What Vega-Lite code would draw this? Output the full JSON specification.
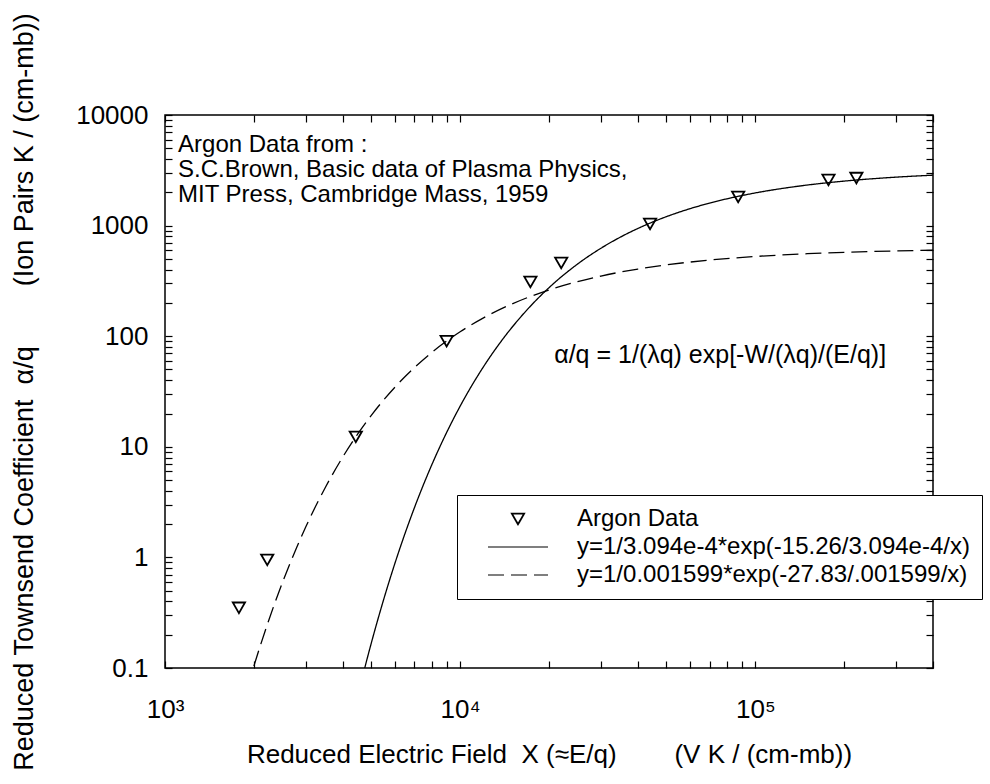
{
  "$schema": "https://vega.github.io/schema/vega-lite/v6.json",
  "width": 768,
  "height": 553,
  "autosize": {"type": "none"},
  "padding": {"left": 165, "top": 115, "right": 57, "bottom": 116},
  "background": "white",
  "config": {
    "view": {"stroke": "black", "strokeWidth": 1.5},
    "font": "Liberation Sans",
    "axis": {"grid": false, "domain": false, "tickColor": "black", "tickWidth": 1.2, "labelColor": "black", "titleColor": "black", "titleFontWeight": "normal", "labelFont": "Liberation Sans", "titleFont": "Liberation Sans"}
  },
  "datasets": {
    "fits": [
      {"series": "y=1/3.094e-4*exp(-15.26/3.094e-4/x)", "x": 4500, "y": 0.0562},
      {"series": "y=1/3.094e-4*exp(-15.26/3.094e-4/x)", "x": 4750, "y": 0.1},
      {"series": "y=1/3.094e-4*exp(-15.26/3.094e-4/x)", "x": 5000, "y": 0.168},
      {"series": "y=1/3.094e-4*exp(-15.26/3.094e-4/x)", "x": 5500, "y": 0.412},
      {"series": "y=1/3.094e-4*exp(-15.26/3.094e-4/x)", "x": 6000, "y": 0.87},
      {"series": "y=1/3.094e-4*exp(-15.26/3.094e-4/x)", "x": 6500, "y": 1.637},
      {"series": "y=1/3.094e-4*exp(-15.26/3.094e-4/x)", "x": 7000, "y": 2.815},
      {"series": "y=1/3.094e-4*exp(-15.26/3.094e-4/x)", "x": 8000, "y": 6.792},
      {"series": "y=1/3.094e-4*exp(-15.26/3.094e-4/x)", "x": 9000, "y": 13.47},
      {"series": "y=1/3.094e-4*exp(-15.26/3.094e-4/x)", "x": 10000, "y": 23.31},
      {"series": "y=1/3.094e-4*exp(-15.26/3.094e-4/x)", "x": 12000, "y": 53.02},
      {"series": "y=1/3.094e-4*exp(-15.26/3.094e-4/x)", "x": 14000, "y": 95.39},
      {"series": "y=1/3.094e-4*exp(-15.26/3.094e-4/x)", "x": 17000, "y": 177.6},
      {"series": "y=1/3.094e-4*exp(-15.26/3.094e-4/x)", "x": 20000, "y": 274.5},
      {"series": "y=1/3.094e-4*exp(-15.26/3.094e-4/x)", "x": 25000, "y": 449.5},
      {"series": "y=1/3.094e-4*exp(-15.26/3.094e-4/x)", "x": 30000, "y": 624.4},
      {"series": "y=1/3.094e-4*exp(-15.26/3.094e-4/x)", "x": 35000, "y": 789.7},
      {"series": "y=1/3.094e-4*exp(-15.26/3.094e-4/x)", "x": 40000, "y": 941.9},
      {"series": "y=1/3.094e-4*exp(-15.26/3.094e-4/x)", "x": 50000, "y": 1205.2},
      {"series": "y=1/3.094e-4*exp(-15.26/3.094e-4/x)", "x": 60000, "y": 1420.6},
      {"series": "y=1/3.094e-4*exp(-15.26/3.094e-4/x)", "x": 70000, "y": 1597.6},
      {"series": "y=1/3.094e-4*exp(-15.26/3.094e-4/x)", "x": 80000, "y": 1744.7},
      {"series": "y=1/3.094e-4*exp(-15.26/3.094e-4/x)", "x": 100000, "y": 1973.7},
      {"series": "y=1/3.094e-4*exp(-15.26/3.094e-4/x)", "x": 150000, "y": 2326.3},
      {"series": "y=1/3.094e-4*exp(-15.26/3.094e-4/x)", "x": 200000, "y": 2525.6},
      {"series": "y=1/3.094e-4*exp(-15.26/3.094e-4/x)", "x": 300000, "y": 2742.0},
      {"series": "y=1/3.094e-4*exp(-15.26/3.094e-4/x)", "x": 400000, "y": 2857.1},
      {"series": "y=1/0.001599*exp(-27.83/.001599/x)", "x": 1900, "y": 0.0658},
      {"series": "y=1/0.001599*exp(-27.83/.001599/x)", "x": 2000, "y": 0.1039},
      {"series": "y=1/0.001599*exp(-27.83/.001599/x)", "x": 2200, "y": 0.2293},
      {"series": "y=1/0.001599*exp(-27.83/.001599/x)", "x": 2500, "y": 0.5925},
      {"series": "y=1/0.001599*exp(-27.83/.001599/x)", "x": 2800, "y": 1.249},
      {"series": "y=1/0.001599*exp(-27.83/.001599/x)", "x": 3000, "y": 1.891},
      {"series": "y=1/0.001599*exp(-27.83/.001599/x)", "x": 3500, "y": 4.331},
      {"series": "y=1/0.001599*exp(-27.83/.001599/x)", "x": 4000, "y": 8.062},
      {"series": "y=1/0.001599*exp(-27.83/.001599/x)", "x": 4500, "y": 13.08},
      {"series": "y=1/0.001599*exp(-27.83/.001599/x)", "x": 5000, "y": 19.25},
      {"series": "y=1/0.001599*exp(-27.83/.001599/x)", "x": 6000, "y": 34.38},
      {"series": "y=1/0.001599*exp(-27.83/.001599/x)", "x": 7000, "y": 52.04},
      {"series": "y=1/0.001599*exp(-27.83/.001599/x)", "x": 8000, "y": 71.01},
      {"series": "y=1/0.001599*exp(-27.83/.001599/x)", "x": 10000, "y": 109.7},
      {"series": "y=1/0.001599*exp(-27.83/.001599/x)", "x": 12000, "y": 146.6},
      {"series": "y=1/0.001599*exp(-27.83/.001599/x)", "x": 15000, "y": 196.0},
      {"series": "y=1/0.001599*exp(-27.83/.001599/x)", "x": 20000, "y": 262.0},
      {"series": "y=1/0.001599*exp(-27.83/.001599/x)", "x": 25000, "y": 311.8},
      {"series": "y=1/0.001599*exp(-27.83/.001599/x)", "x": 30000, "y": 350.1},
      {"series": "y=1/0.001599*exp(-27.83/.001599/x)", "x": 40000, "y": 404.7},
      {"series": "y=1/0.001599*exp(-27.83/.001599/x)", "x": 50000, "y": 441.6},
      {"series": "y=1/0.001599*exp(-27.83/.001599/x)", "x": 70000, "y": 487.7},
      {"series": "y=1/0.001599*exp(-27.83/.001599/x)", "x": 100000, "y": 525.5},
      {"series": "y=1/0.001599*exp(-27.83/.001599/x)", "x": 150000, "y": 556.9},
      {"series": "y=1/0.001599*exp(-27.83/.001599/x)", "x": 200000, "y": 573.3},
      {"series": "y=1/0.001599*exp(-27.83/.001599/x)", "x": 300000, "y": 590.1},
      {"series": "y=1/0.001599*exp(-27.83/.001599/x)", "x": 400000, "y": 598.8}
    ],
    "argon": [
      {"x": 1780, "y": 0.35},
      {"x": 2220, "y": 0.95},
      {"x": 4430, "y": 12.3},
      {"x": 9000, "y": 90},
      {"x": 17300, "y": 309},
      {"x": 22000, "y": 459},
      {"x": 44000, "y": 1034},
      {"x": 87500, "y": 1816},
      {"x": 177000, "y": 2583},
      {"x": 220000, "y": 2692}
    ],
    "notes": [
      {"x": 1107, "y": 5356, "label": "Argon Data from :"},
      {"x": 1107, "y": 3182, "label": "S.C.Brown, Basic data of Plasma Physics,"},
      {"x": 1107, "y": 1891, "label": "MIT Press, Cambridge Mass, 1959"}
    ],
    "formula": [
      {"x": 20830, "y": 67.6, "label": "α/q = 1/(λq) exp[-W/(λq)/(E/q)]"}
    ]
  },
  "layer": [
    {
      "data": {"name": "fits"},
      "mark": {"type": "line", "clip": true, "color": "black", "strokeWidth": 1.3, "interpolate": "monotone"},
      "encoding": {
        "x": {
          "field": "x", "type": "quantitative",
          "scale": {"type": "log", "domain": [1000, 400000], "nice": false},
          "axis": {
            "orient": "bottom",
            "values": [1000, 2000, 3000, 4000, 5000, 6000, 7000, 8000, 9000, 10000, 20000, 30000, 40000, 50000, 60000, 70000, 80000, 90000, 100000, 200000, 300000, 400000],
            "labelExpr": "datum.value == 1000 ? '10³' : datum.value == 10000 ? '10⁴' : datum.value == 100000 ? '10⁵' : ''",
            "tickSize": -7,
            "labelFontSize": 26,
            "labelPadding": 35,
            "labelOverlap": false,
            "labelFlush": false,
            "labelBound": false,
            "title": "Reduced Electric Field\u00a0\u00a0X (≈E/q)\u00a0\u00a0\u00a0\u00a0\u00a0\u00a0\u00a0\u00a0(V K / (cm-mb))",
            "titleFontSize": 26,
            "titleY": 86,
            "titleBaseline": "middle"
          }
        },
        "y": {
          "field": "y", "type": "quantitative",
          "scale": {"type": "log", "domain": [0.1, 10000], "nice": false},
          "axis": {
            "orient": "left",
            "values": [0.1, 0.2, 0.3, 0.4, 0.5, 0.6, 0.7, 0.8, 0.9, 1, 2, 3, 4, 5, 6, 7, 8, 9, 10, 20, 30, 40, 50, 60, 70, 80, 90, 100, 200, 300, 400, 500, 600, 700, 800, 900, 1000, 2000, 3000, 4000, 5000, 6000, 7000, 8000, 9000, 10000],
            "labelExpr": "indexof([0.1, 1, 10, 100, 1000, 10000], datum.value) >= 0 ? (datum.value < 1 ? '0.1' : format(datum.value, 'd')) : ''",
            "tickSize": -7,
            "labelFontSize": 26,
            "labelPadding": 24,
            "labelOverlap": false,
            "labelFlush": false,
            "labelBound": false,
            "title": "Reduced Townsend Coefficient\u00a0\u00a0α/q\u00a0\u00a0\u00a0\u00a0\u00a0\u00a0\u00a0\u00a0(Ion Pairs K / (cm-mb))",
            "titleFontSize": 27,
            "titleX": -141,
            "titleAngle": 270,
            "titleBaseline": "middle",
            "titleAlign": "center"
          }
        },
        "strokeDash": {
          "field": "series", "type": "nominal",
          "scale": {
            "domain": ["Argon Data", "y=1/3.094e-4*exp(-15.26/3.094e-4/x)", "y=1/0.001599*exp(-27.83/.001599/x)"],
            "range": [[1, 0], [1, 0], [16, 7]]
          },
          "legend": {
            "orient": "none",
            "legendX": 292,
            "legendY": 380,
            "title": null,
            "strokeColor": "black",
            "fillColor": "white",
            "padding": 12,
            "labelFontSize": 24,
            "labelFont": "Liberation Sans",
            "labelColor": "black",
            "labelLimit": 1000,
            "labelOffset": 47,
            "symbolOffset": 37,
            "rowPadding": 4,
            "symbolType": "stroke",
            "symbolSize": 3600,
            "symbolStrokeWidth": 1.2,
            "symbolStrokeColor": "black",
            "encode": {
              "symbols": {
                "update": {
                  "shape": {"signal": "datum.value === 'Argon Data' ? 'triangle-down' : 'stroke'"},
                  "size": {"signal": "datum.value === 'Argon Data' ? 150 : 3600"},
                  "strokeWidth": {"signal": "datum.value === 'Argon Data' ? 1.8 : 1.2"},
                  "fill": {"value": "transparent"},
                  "stroke": {"value": "black"}
                }
              }
            }
          }
        }
      }
    },
    {
      "data": {"name": "argon"},
      "mark": {"type": "point", "shape": "triangle-down", "size": 150, "filled": false, "color": "black", "strokeWidth": 1.8, "opacity": 1},
      "encoding": {
        "x": {
          "field": "x", "type": "quantitative",
          "axis": {
            "orient": "top",
            "values": [1000, 2000, 3000, 4000, 5000, 6000, 7000, 8000, 9000, 10000, 20000, 30000, 40000, 50000, 60000, 70000, 80000, 90000, 100000, 200000, 300000, 400000],
            "labels": false,
            "tickSize": -7,
            "title": null
          }
        },
        "y": {
          "field": "y", "type": "quantitative",
          "axis": {
            "orient": "right",
            "values": [0.1, 0.2, 0.3, 0.4, 0.5, 0.6, 0.7, 0.8, 0.9, 1, 2, 3, 4, 5, 6, 7, 8, 9, 10, 20, 30, 40, 50, 60, 70, 80, 90, 100, 200, 300, 400, 500, 600, 700, 800, 900, 1000, 2000, 3000, 4000, 5000, 6000, 7000, 8000, 9000, 10000],
            "labels": false,
            "tickSize": -7,
            "title": null
          }
        }
      }
    },
    {
      "data": {"name": "notes"},
      "mark": {"type": "text", "align": "left", "baseline": "middle", "fontSize": 24, "color": "black", "font": "Liberation Sans"},
      "encoding": {
        "x": {"field": "x", "type": "quantitative", "axis": null},
        "y": {"field": "y", "type": "quantitative", "axis": null},
        "text": {"field": "label", "type": "nominal"}
      }
    },
    {
      "data": {"name": "formula"},
      "mark": {"type": "text", "align": "left", "baseline": "middle", "fontSize": 25, "color": "black", "font": "Liberation Sans"},
      "encoding": {
        "x": {"field": "x", "type": "quantitative", "axis": null},
        "y": {"field": "y", "type": "quantitative", "axis": null},
        "text": {"field": "label", "type": "nominal"}
      }
    }
  ],
  "resolve": {"axis": {"x": "independent", "y": "independent"}}
}
